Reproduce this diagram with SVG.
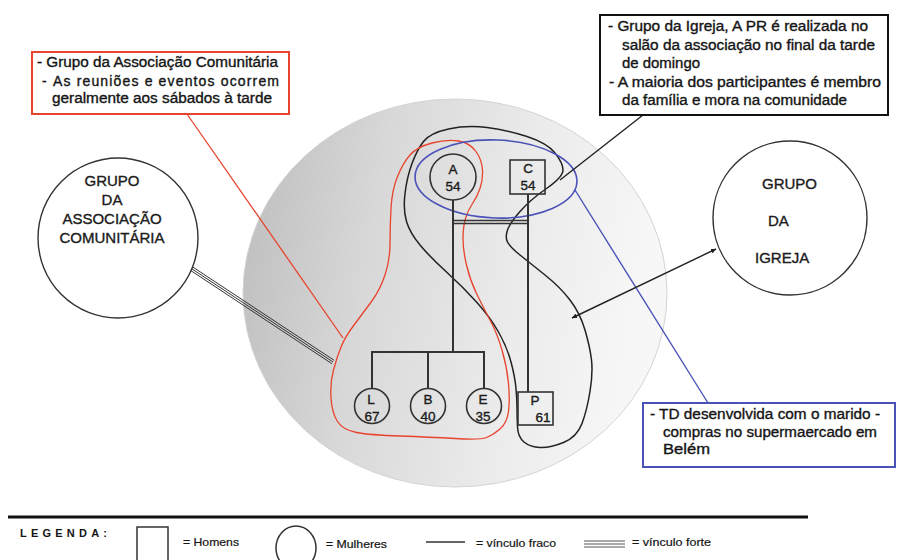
<svg xmlns="http://www.w3.org/2000/svg" width="898" height="560" viewBox="0 0 898 560">
<defs>
<style>
text{font-family:"Liberation Sans",Arial,sans-serif;fill:#151515;stroke:#151515;stroke-width:0.35}
.t{font-size:14px}
.g{font-size:15px;fill:#222}
.n{font-size:13.5px;fill:#222;text-anchor:middle}
.lg{font-size:10.5px;stroke-width:0.2}
.tree{stroke:#333;stroke-width:2;fill:none}
.nd{stroke:#333;stroke-width:1.6;fill:none}
.big{stroke:#333;stroke-width:1.4;fill:#fff}
</style>
<linearGradient id="grad" x1="0" y1="0" x2="1" y2="0.15">
<stop offset="0" stop-color="#bcbcbc"/>
<stop offset="0.35" stop-color="#d8d8d8"/>
<stop offset="0.7" stop-color="#ebebeb"/>
<stop offset="1" stop-color="#f7f7f7"/>
</linearGradient>
<marker id="ah" viewBox="0 0 6 6" refX="6" refY="3" markerWidth="5" markerHeight="5" markerUnits="userSpaceOnUse" orient="auto-start-reverse">
<path d="M0,0 L6,3 L0,6 z" fill="#222"/>
</marker>
</defs>
<rect width="898" height="560" fill="#fff"/>

<ellipse id="familia" cx="455" cy="293" rx="212" ry="194" fill="url(#grad)" stroke="#d4d4d4" stroke-width="1"/>

<g id="enclosures">
<path d="M423.5,141.5 Q430,133 448.5,129 Q467,125 487,127.5 Q507,130 527,136.5 Q547,143 555,153 Q563,163 563,170 Q563,177 546.5,188.5 Q530,200 520,211.5 Q510,223 507.5,230 Q505,237 507.5,242 Q510,247 520,255 Q530,263 545,275 Q560,287 570,300 Q580,313 585,330 Q590,347 591.5,360 Q593,373 590,391.5 Q587,410 582,423.5 Q577,437 563.5,442.5 Q550,448 540,447.5 Q530,447 524,442 Q518,437 517.5,427 Q517,417 517,408.5 Q517,400 516,388.5 Q515,377 511,362 Q507,347 498.5,332 Q490,317 476.5,302 Q463,287 446.5,272 Q430,257 420,245 Q410,233 406.5,221.5 Q403,210 405,193.5 Q407,177 412,163.5 Q417,150 423.5,141.5 Z" fill="none" stroke="#222" stroke-width="1.5"/>
<path d="M410,155 Q417,147 432,143 Q447,139 458.5,141 Q470,143 476,151.5 Q482,160 482.5,170 Q483,180 480,188.5 Q477,197 472.5,203.5 Q468,210 465.5,218.5 Q463,227 463,238.5 Q463,250 466.5,265 Q470,280 476.5,293.5 Q483,307 490,320 Q497,333 502,350 Q507,367 508.5,383.5 Q510,400 508.5,411.5 Q507,423 500,429 Q493,435 486.5,437.5 Q480,440 455,438.5 Q430,437 400,436 Q370,435 356.5,432.5 Q343,430 337.5,421.5 Q332,413 331,398 Q330,383 333.5,370 Q337,357 341,347 Q345,337 354,325 Q363,313 371.5,301.5 Q380,290 385,275 Q390,260 390,243.5 Q390,227 391,208.5 Q392,190 397.5,176.5 Q403,163 410,155 Z" fill="none" stroke="#e8432d" stroke-width="1.3"/>
<ellipse cx="496" cy="179" rx="81" ry="39" transform="rotate(2 496 179)" fill="none" stroke="#4a52b8" stroke-width="1.6"/>
</g>

<g id="connectors">
<g class="tree">
<line x1="453" y1="200" x2="453" y2="352"/>
<line x1="453" y1="220.5" x2="528" y2="220.5" stroke-width="1.4"/>
<line x1="453" y1="223.5" x2="528" y2="223.5" stroke-width="1.4"/>
<line x1="528" y1="194" x2="528" y2="392"/>
<polyline points="372,388.5 372,352 484,352 484,388.5"/>
<line x1="428" y1="352" x2="428" y2="388.5"/>
</g>
<line x1="187" y1="114" x2="343" y2="338" stroke="#e8432d" stroke-width="1.3"/>
<line x1="643" y1="115" x2="560" y2="180" stroke="#222" stroke-width="1.4"/>
<line x1="575" y1="190" x2="708" y2="403" stroke="#4a52b8" stroke-width="1.4"/>
<line x1="572" y1="318" x2="716" y2="249" stroke="#222" stroke-width="1.4" marker-start="url(#ah)" marker-end="url(#ah)"/>
<g stroke="#333" stroke-width="1">
<line x1="181.9" y1="264.7" x2="331.9" y2="363.7"/>
<line x1="183" y1="263" x2="333" y2="362"/>
<line x1="184.1" y1="261.3" x2="334.1" y2="360.3"/>
</g>
</g>

<g id="node-A"><circle class="nd" cx="453" cy="177" r="23"/><text class="n" x="453" y="174">A</text><text class="n" x="453" y="191">54</text></g>
<g id="node-C"><rect class="nd" x="510" y="160" width="35" height="34"/><text class="n" x="528" y="173">C</text><text class="n" x="528" y="190">54</text></g>
<g id="node-L"><circle class="nd" cx="372" cy="406" r="17.5"/><text class="n" x="371" y="404">L</text><text class="n" x="372" y="421">67</text></g>
<g id="node-B"><circle class="nd" cx="428" cy="406" r="17.5"/><text class="n" x="428" y="404">B</text><text class="n" x="428" y="421">40</text></g>
<g id="node-E"><circle class="nd" cx="484" cy="406" r="17.5"/><text class="n" x="483" y="404">E</text><text class="n" x="483" y="421">35</text></g>
<g id="node-P"><rect class="nd" x="518" y="392" width="35" height="33"/><text class="n" x="535" y="405">P</text><text class="n" x="543" y="422">61</text></g>

<g id="grupo-associacao">
<circle class="big" cx="118" cy="238" r="80"/>
<text class="g" x="112" y="186" text-anchor="middle">GRUPO</text>
<text class="g" x="112" y="205" text-anchor="middle">DA</text>
<text class="g" x="112" y="224" text-anchor="middle">ASSOCIAÇÃO</text>
<text class="g" x="112" y="243" text-anchor="middle">COMUNITÁRIA</text>
</g>

<g id="grupo-igreja">
<circle class="big" cx="790" cy="218" r="77"/>
<text class="g" x="762" y="189">GRUPO</text>
<text class="g" x="768" y="226">DA</text>
<text class="g" x="755" y="263">IGREJA</text>
</g>

<g id="box-associacao">
<rect x="32" y="52" width="257" height="62" fill="#fff" stroke="#e8432d" stroke-width="2"/>
<text class="t" x="37" y="67" textLength="241" lengthAdjust="spacingAndGlyphs">- Grupo da Associação Comunitária</text>
<text class="t" x="42" y="86">-</text>
<text class="t" x="53" y="86" textLength="226" lengthAdjust="spacing">As reuniões e eventos ocorrem</text>
<text class="t" x="52" y="103" textLength="220" lengthAdjust="spacingAndGlyphs">geralmente aos sábados à tarde</text>
</g>

<g id="box-igreja">
<rect x="600" y="15" width="288" height="100" fill="#fff" stroke="#111" stroke-width="2"/>
<text class="t" x="608" y="31" textLength="260" lengthAdjust="spacingAndGlyphs">- Grupo da Igreja, A PR é realizada no</text>
<text class="t" x="622" y="50" textLength="253" lengthAdjust="spacingAndGlyphs">salão da associação no final da tarde</text>
<text class="t" x="622" y="68" textLength="78" lengthAdjust="spacingAndGlyphs">de domingo</text>
<text class="t" x="609" y="87" textLength="272" lengthAdjust="spacingAndGlyphs">- A maioria dos participantes é membro</text>
<text class="t" x="622" y="105" textLength="225" lengthAdjust="spacingAndGlyphs">da família e mora na comunidade</text>
</g>

<g id="box-td">
<rect x="643" y="403" width="252" height="64" fill="#fff" stroke="#4a52b8" stroke-width="2"/>
<text class="t" x="650" y="419" textLength="230" lengthAdjust="spacingAndGlyphs">- TD desenvolvida com o marido -</text>
<text class="t" x="663" y="437" textLength="214" lengthAdjust="spacingAndGlyphs">compras no supermaercado em</text>
<text class="t" x="663" y="454" textLength="47" lengthAdjust="spacingAndGlyphs">Belém</text>
</g>

<g id="legenda">
<line x1="8" y1="517" x2="808" y2="517" stroke="#111" stroke-width="3"/>
<text x="20" y="537" font-size="11" font-weight="bold" textLength="87" lengthAdjust="spacing" style="stroke-width:0">LEGENDA:</text>
<rect x="137" y="527" width="31" height="38" fill="none" stroke="#333" stroke-width="1.5"/>
<text class="lg" x="183" y="546" textLength="56" lengthAdjust="spacingAndGlyphs">= Homens</text>
<ellipse cx="296" cy="548" rx="20" ry="22" fill="none" stroke="#333" stroke-width="1.5"/>
<text class="lg" x="326" y="548" textLength="61" lengthAdjust="spacingAndGlyphs">= Mulheres</text>
<line x1="426" y1="542" x2="465" y2="542" stroke="#333" stroke-width="1.5"/>
<text class="lg" x="476" y="547" textLength="80" lengthAdjust="spacingAndGlyphs">= vínculo fraco</text>
<g stroke="#555" stroke-width="1"><line x1="584" y1="541" x2="625" y2="541"/><line x1="584" y1="544" x2="625" y2="544"/><line x1="584" y1="547" x2="625" y2="547"/></g>
<text class="lg" x="632" y="546" textLength="79" lengthAdjust="spacingAndGlyphs">= vínculo forte</text>
</g>
</svg>
